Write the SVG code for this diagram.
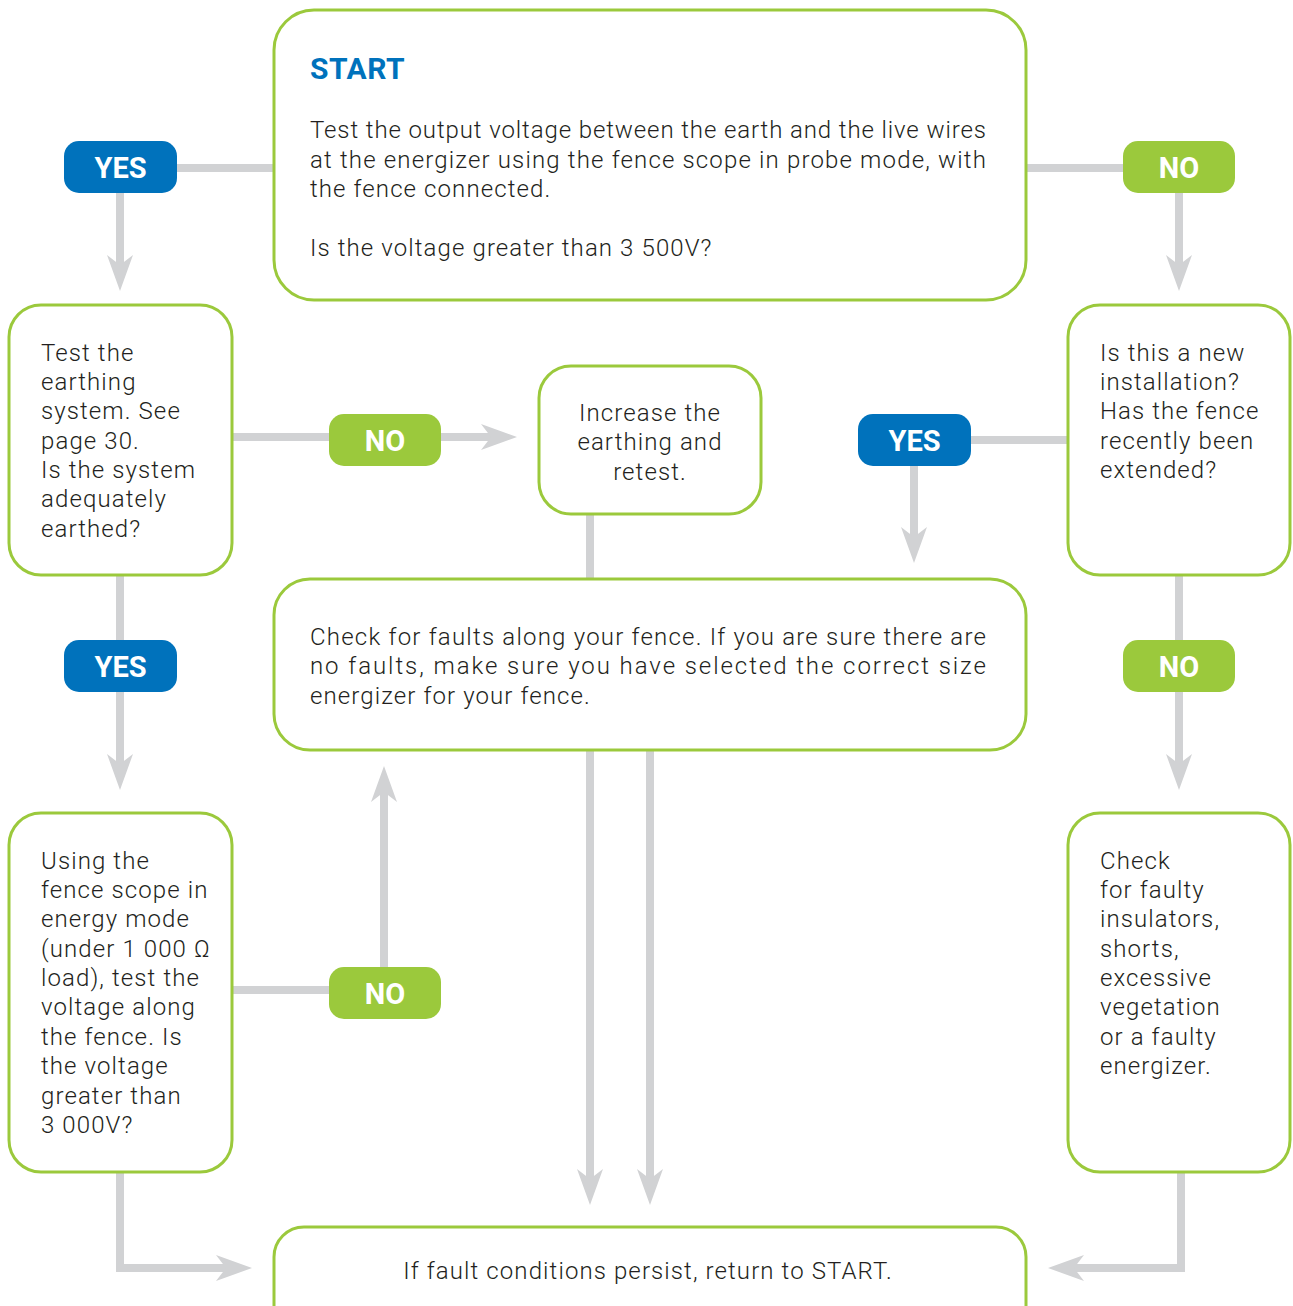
<svg xmlns="http://www.w3.org/2000/svg" width="1293" height="1306" viewBox="0 0 1293 1306">
<defs>
<style>
.box{fill:#fff;stroke:#9bc93c;stroke-width:3}
.conn{fill:none;stroke:#d1d2d4;stroke-width:8}
.t{font-family:Roboto,"Liberation Sans",sans-serif;font-size:24px;font-weight:300;fill:#231f20;letter-spacing:1.1px}
.tb{font-family:Roboto,"Liberation Sans",sans-serif;font-size:30px;font-weight:700;fill:#0072bc;letter-spacing:0.5px}
.bt{font-family:Roboto,"Liberation Sans",sans-serif;font-size:29px;font-weight:700;fill:#fff;text-anchor:middle}
.yes{fill:#0072bc}
.no{fill:#9bc93c}
</style>
<marker id="ah" markerUnits="userSpaceOnUse" markerWidth="40" markerHeight="30" viewBox="-1 -15 40 30" refX="10" refY="0" orient="auto">
<path d="M0,-13 L36,0 L0,13 L10,0 Z" fill="#d1d2d4"/>
</marker>
</defs>
<rect width="1293" height="1306" fill="#fff"/>
<g id="connectors">
<path class="conn" d="M177,168 H273"/>
<path class="conn" d="M120,193 V265" marker-end="url(#ah)"/>
<path class="conn" d="M1027,168 H1123"/>
<path class="conn" d="M1179,193 V265" marker-end="url(#ah)"/>
<path class="conn" d="M233,437 H329"/>
<path class="conn" d="M441,437 H491" marker-end="url(#ah)"/>
<path class="conn" d="M971,440 H1067"/>
<path class="conn" d="M914,466 V537" marker-end="url(#ah)"/>
<path class="conn" d="M590,515 V578"/>
<path class="conn" d="M590,751 V1179" marker-end="url(#ah)"/>
<path class="conn" d="M650,751 V1179" marker-end="url(#ah)"/>
<path class="conn" d="M120,576 V640"/>
<path class="conn" d="M120,692 V764" marker-end="url(#ah)"/>
<path class="conn" d="M1179,576 V640"/>
<path class="conn" d="M1179,692 V764" marker-end="url(#ah)"/>
<path class="conn" d="M233,990 H329"/>
<path class="conn" d="M384,967 V792" marker-end="url(#ah)"/>
<path class="conn" d="M120,1173 V1268 H226" marker-end="url(#ah)"/>
<path class="conn" d="M1181,1173 V1268 H1074" marker-end="url(#ah)"/>
</g>
<g id="start">
<rect class="box" x="274" y="10" width="752" height="290" rx="40"/>
<text class="tb" x="310" y="79">START</text>
<text class="t" x="310" y="138" textLength="677">Test the output voltage between the earth and the live wires</text>
<text class="t" x="310" y="168" textLength="677">at the energizer using the fence scope in probe mode, with</text>
<text class="t" x="310" y="197">the fence connected.</text>
<text class="t" x="310" y="256">Is the voltage greater than 3 500V?</text>
</g>
<g id="test-earthing">
<rect class="box" x="9" y="305" width="223" height="270" rx="32"/>
<text class="t" x="41" y="361">Test the</text>
<text class="t" x="41" y="390">earthing</text>
<text class="t" x="41" y="419">system. See</text>
<text class="t" x="41" y="449">page 30.</text>
<text class="t" x="41" y="478">Is the system</text>
<text class="t" x="41" y="507">adequately</text>
<text class="t" x="41" y="537">earthed?</text>
</g>
<g id="increase">
<rect class="box" x="539" y="366" width="222" height="148" rx="32"/>
<text class="t" x="650" y="421" text-anchor="middle">Increase the</text>
<text class="t" x="650" y="450" text-anchor="middle">earthing and</text>
<text class="t" x="650" y="480" text-anchor="middle">retest.</text>
</g>
<g id="new-installation">
<rect class="box" x="1068" y="305" width="222" height="270" rx="32"/>
<text class="t" x="1100" y="361">Is this a new</text>
<text class="t" x="1100" y="390">installation?</text>
<text class="t" x="1100" y="419">Has the fence</text>
<text class="t" x="1100" y="449">recently been</text>
<text class="t" x="1100" y="478">extended?</text>
</g>
<g id="check-faults">
<rect class="box" x="274" y="579" width="752" height="171" rx="36"/>
<text class="t" x="310" y="645" textLength="677">Check for faults along your fence. If you are sure there are</text>
<text class="t" x="310" y="674" textLength="677">no faults, make sure you have selected the correct size</text>
<text class="t" x="310" y="704">energizer for your fence.</text>
</g>
<g id="energy-mode">
<rect class="box" x="9" y="813" width="223" height="359" rx="32"/>
<text class="t" x="41" y="869">Using the</text>
<text class="t" x="41" y="898">fence scope in</text>
<text class="t" x="41" y="927">energy mode</text>
<text class="t" x="41" y="957">(under 1 000 Ω</text>
<text class="t" x="41" y="986">load), test the</text>
<text class="t" x="41" y="1015">voltage along</text>
<text class="t" x="41" y="1045">the fence. Is</text>
<text class="t" x="41" y="1074">the voltage</text>
<text class="t" x="41" y="1104">greater than</text>
<text class="t" x="41" y="1133">3 000V?</text>
</g>
<g id="check-insulators">
<rect class="box" x="1068" y="813" width="222" height="359" rx="32"/>
<text class="t" x="1100" y="869">Check</text>
<text class="t" x="1100" y="898">for faulty</text>
<text class="t" x="1100" y="927">insulators,</text>
<text class="t" x="1100" y="957">shorts,</text>
<text class="t" x="1100" y="986">excessive</text>
<text class="t" x="1100" y="1015">vegetation</text>
<text class="t" x="1100" y="1045">or a faulty</text>
<text class="t" x="1100" y="1074">energizer.</text>
</g>
<g id="persist">
<rect class="box" x="274" y="1227" width="752" height="120" rx="30"/>
<text class="t" x="648" y="1279" text-anchor="middle">If fault conditions persist, return to START.</text>
</g>
<g id="badge-yes-1"><rect class="yes" x="64" y="141" width="113" height="52" rx="15"/><text class="bt" x="120.5" y="178">YES</text></g>
<g id="badge-no-1"><rect class="no" x="1123" y="141" width="112" height="52" rx="15"/><text class="bt" x="1179" y="178">NO</text></g>
<g id="badge-no-2"><rect class="no" x="329" y="414" width="112" height="52" rx="15"/><text class="bt" x="385" y="451">NO</text></g>
<g id="badge-yes-2"><rect class="yes" x="858" y="414" width="113" height="52" rx="15"/><text class="bt" x="914.5" y="451">YES</text></g>
<g id="badge-yes-3"><rect class="yes" x="64" y="640" width="113" height="52" rx="15"/><text class="bt" x="120.5" y="677">YES</text></g>
<g id="badge-no-3"><rect class="no" x="1123" y="640" width="112" height="52" rx="15"/><text class="bt" x="1179" y="677">NO</text></g>
<g id="badge-no-4"><rect class="no" x="329" y="967" width="112" height="52" rx="15"/><text class="bt" x="385" y="1004">NO</text></g>
</svg>
